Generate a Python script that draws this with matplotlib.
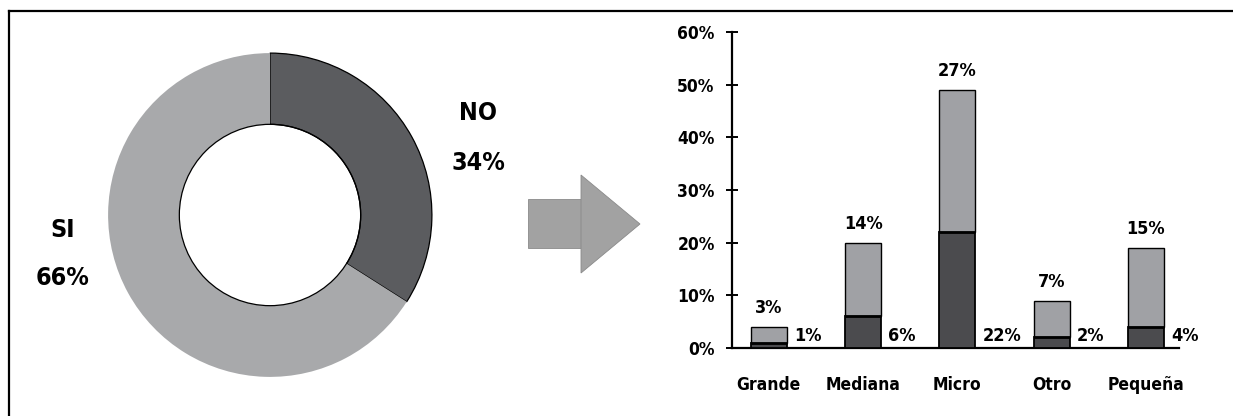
import matplotlib
matplotlib.use("Agg")
import matplotlib.pyplot as plt
import matplotlib.font_manager as fm
from matplotlib.patches import Circle, Rectangle, Polygon
from matplotlib.lines import Line2D
from matplotlib.ticker import FixedLocator

# datos
dona_etiquetas = ["NO", "SI"]
dona_valores = [34, 66]

categorias = ["Grande", "Mediana", "Micro", "Otro", "Pequeña"]
serie_oscura = [1, 6, 22, 2, 4]       # etiqueta a la derecha
serie_clara = [3, 14, 27, 7, 15]      # etiqueta encima
yticks = [0, 10, 20, 30, 40, 50, 60]

OSCURO_DONA = "#5b5c5f"
CLARO_DONA = "#a8a9ab"
OSCURO_BARRA = "#4b4b4e"
CLARO_BARRA = "#a0a1a5"
FLECHA = "#a2a2a2"

# fuente condensada en negrita si existe
ruta = None
for f in fm.fontManager.ttflist:
    nombre = f.fname.split("/")[-1]
    if nombre == "DejaVuSansCondensed-Bold.ttf":
        ruta = f.fname
if ruta is None:
    for f in fm.fontManager.ttflist:
        nombre = f.fname.split("/")[-1]
        if "Narrow-Bold." in nombre or "Condensed-Bold." in nombre:
            ruta = f.fname
            break


def fuente(tam):
    if ruta:
        return fm.FontProperties(fname=ruta, size=tam)
    return fm.FontProperties(family="DejaVu Sans", weight="bold", size=tam)


W, H = 1233, 416
fig = plt.figure(figsize=(W / 100, H / 100), dpi=100)


def fx(px):
    return px / W


def fy(py):
    return (H - py) / H


# marco (solo arriba e izquierda)
fig.add_artist(Line2D([fx(9), fx(9)], [fy(11), 0], transform=fig.transFigure, color="black", lw=1.6))
fig.add_artist(Line2D([fx(9), 1], [fy(11), fy(11)], transform=fig.transFigure, color="black", lw=1.6))

# --- dona ---
ax1 = fig.add_axes([fx(270 - 170), fy(215 + 170), 340 / W, 340 / H])
cunas, _ = ax1.pie(dona_valores, startangle=90, counterclock=False,
                   colors=[OSCURO_DONA, CLARO_DONA], radius=1.0,
                   wedgeprops=dict(width=0.44))
cunas[0].set_edgecolor("black")
cunas[0].set_linewidth(0.9)
cunas[1].set_edgecolor("none")
ax1.add_patch(Circle((0, 0), 0.56, fill=False, edgecolor="black", lw=0.9, zorder=5))
ax1.set_xlim(-1.05, 1.05)
ax1.set_ylim(-1.05, 1.05)
ax1.set_aspect("equal")
ax1.axis("off")

fig.text(fx(478), fy(113), dona_etiquetas[0], ha="center", va="center", fontproperties=fuente(18))
fig.text(fx(478), fy(163), f"{dona_valores[0]}%", ha="center", va="center", fontproperties=fuente(18))
fig.text(fx(63), fy(230), dona_etiquetas[1], ha="center", va="center", fontproperties=fuente(18))
fig.text(fx(63), fy(278), f"{dona_valores[1]}%", ha="center", va="center", fontproperties=fuente(18))

# --- flecha ---
fig.add_artist(Rectangle((fx(528), fy(248)), (581 - 528) / W, (248 - 199) / H,
                         transform=fig.transFigure, facecolor=FLECHA, edgecolor="#8a8a8a", lw=0.6))
fig.add_artist(Polygon([(fx(581), fy(175)), (fx(581), fy(273)), (fx(640), fy(224))],
                       closed=True, transform=fig.transFigure, facecolor=FLECHA, edgecolor="#8a8a8a", lw=0.6))

# --- barras apiladas ---
ax2 = fig.add_axes([fx(732), fy(348), 447 / W, 316 / H])
x = list(range(len(categorias)))
ancho = 0.38
oscura = [v / 100 for v in serie_oscura]
clara = [v / 100 for v in serie_clara]
ax2.bar(x, oscura, width=ancho, color=OSCURO_BARRA, edgecolor="black", lw=1.3, zorder=3)
ax2.bar(x, clara, bottom=oscura, width=ancho, color=CLARO_BARRA, edgecolor="black", lw=1.0, zorder=3)
# linea gruesa entre segmentos
for i in x:
    ax2.plot([i - ancho / 2, i + ancho / 2], [oscura[i], oscura[i]], color="black", lw=2.0, zorder=4,
             solid_capstyle="butt")

for i in x:
    ax2.annotate(f"{serie_clara[i]}%", (i, oscura[i] + clara[i]), xytext=(0, 19),
                 textcoords="offset pixels", ha="center", va="center", fontproperties=fuente(13))
    ax2.annotate(f"{serie_oscura[i]}%", (i + ancho / 2, 0), xytext=(7, 12),
                 textcoords="offset pixels", ha="left", va="center", fontproperties=fuente(13))

ax2.set_xlim(-0.39, 4.35)
ax2.set_ylim(0, 0.6)
for s in ["top", "right"]:
    ax2.spines[s].set_visible(False)
for s in ["left", "bottom"]:
    ax2.spines[s].set_linewidth(1.6)
    ax2.spines[s].set_color("black")
ax2.yaxis.set_major_locator(FixedLocator([v / 100 for v in yticks]))
ax2.set_yticklabels([f"{v}%" for v in yticks])
ax2.set_xticks(x)
ax2.set_xticklabels(categorias)
ax2.tick_params(axis="y", direction="inout", length=9, width=1.4, pad=8)
ax2.tick_params(axis="x", length=0, pad=20)
for t in ax2.get_yticklabels():
    t.set_fontproperties(fuente(12.5))
for t in ax2.get_xticklabels():
    t.set_fontproperties(fuente(12.5))
ax2.set_facecolor("none")

fig.savefig("out.png", dpi=100, facecolor="white")
